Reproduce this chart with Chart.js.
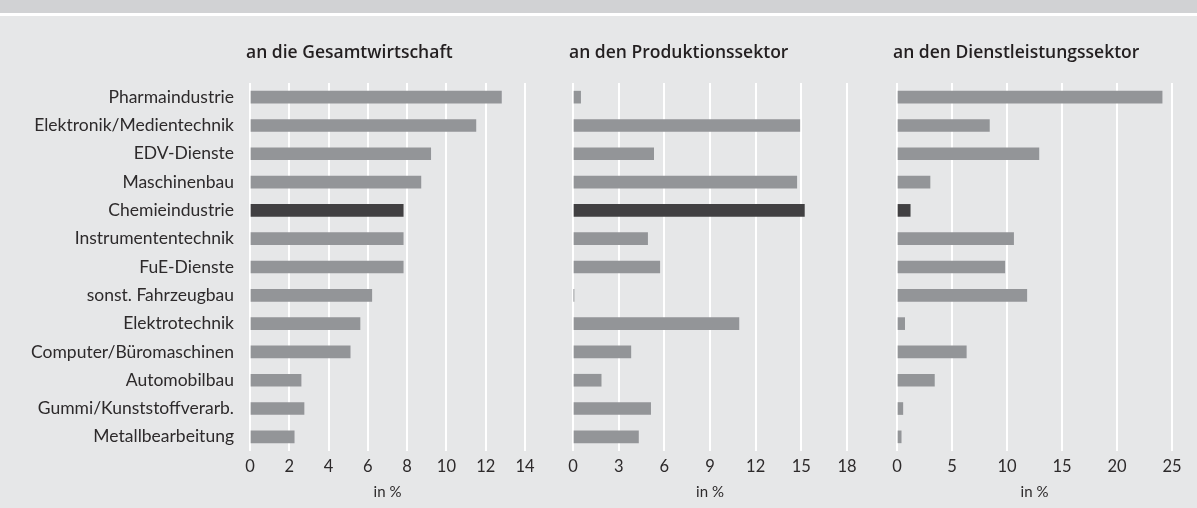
<!DOCTYPE html>
<html>
<head>
<meta charset="utf-8">
<script src="https://cdn.jsdelivr.net/npm/chart.js@4.4.0/dist/chart.umd.min.js"></script>
<style>
  body { margin: 0; background: #e6e7e8; }
  #band { position: absolute; left: 0; top: 0; width: 1197px; height: 13px; background: #d1d2d4; border-bottom: 3px solid #fff; }
  canvas { position: absolute; left: 0; top: 0; }
</style>
</head>
<body>
<div id="band"></div>
<canvas id="c1" width="1197" height="508"></canvas>
<canvas id="c2" width="1197" height="508"></canvas>
<canvas id="c3" width="1197" height="508"></canvas>
<script>
// Branchen (Kategorien)
var categories = ['Pharmaindustrie', 'Elektronik/Medientechnik', 'EDV-Dienste', 'Maschinenbau',
  'Chemieindustrie', 'Instrumententechnik', 'FuE-Dienste', 'sonst. Fahrzeugbau', 'Elektrotechnik',
  'Computer/Büromaschinen', 'Automobilbau', 'Gummi/Kunststoffverarb.', 'Metallbearbeitung'];

// Werte in %
var gesamt     = [12.8, 11.5, 9.2, 8.7, 7.8, 7.8, 7.8, 6.2, 5.6, 5.1, 2.6, 2.75, 2.25];
var produktion = [0.5, 14.9, 5.3, 14.7, 15.2, 4.9, 5.7, 0.05, 10.9, 3.8, 1.85, 5.1, 4.3];
var dienst     = [24.1, 8.4, 12.9, 3.0, 1.2, 10.6, 9.8, 11.8, 0.7, 6.3, 3.4, 0.53, 0.38];

// Achsenbeschriftungen
var ticksGesamt     = [0, 2, 4, 6, 8, 10, 12, 14];
var ticksProduktion = [0, 3, 6, 9, 12, 15, 18];
var ticksDienst     = [0, 5, 10, 15, 20, 25];

var titles = ['an die Gesamtwirtschaft', 'an den Produktionssektor', 'an den Dienstleistungssektor'];

var highlight = 'Chemieindustrie';
var barColors = categories.map(function(c) { return c === highlight ? '#414042' : '#939598'; });

// Überschrift über jedem Panel, links an der Zeichenfläche
var panelTitle = {
  id: 'panelTitle',
  afterDraw: function(chart, args, opts) {
    var ctx = chart.ctx;
    ctx.save();
    ctx.font = '600 17.5px "Open Sans"';
    ctx.fillStyle = '#231f20';
    ctx.textAlign = 'left';
    ctx.textBaseline = 'middle';
    ctx.fillText(opts.text, chart.chartArea.left - 4, 53);
    ctx.restore();
  }
};

function makePanel(id, values, tickValues, title, padLeft, padRight, showLabels) {
  var ctx = document.getElementById(id).getContext('2d');
  return new Chart(ctx, {
    type: 'bar',
    data: {
      labels: categories,
      datasets: [{
        data: values,
        backgroundColor: barColors,
        barThickness: 12
      }]
    },
    options: {
      indexAxis: 'y',
      responsive: false,
      animation: false,
      events: [],
      layout: { padding: { left: padLeft, right: padRight, top: 83, bottom: 0 } },
      plugins: {
        legend: { display: false },
        tooltip: { enabled: false },
        panelTitle: { text: title }
      },
      scales: {
        x: {
          min: tickValues[0],
          max: tickValues[tickValues.length - 1],
          afterBuildTicks: function(scale) {
            scale.ticks = tickValues.map(function(v) { return { value: v }; });
          },
          afterFit: function(scale) { scale.height = 57; },
          grid: { color: '#ffffff', lineWidth: 2, drawTicks: false },
          border: { display: false },
          ticks: { color: '#2d2a2b', font: { family: 'Lato', size: 16.5 }, padding: 6 },
          title: { display: true, text: 'in %', color: '#2d2a2b', font: { family: 'Lato', size: 15 }, padding: { top: 0, bottom: 7 } }
        },
        y: {
          display: showLabels,
          afterFit: function(scale) { if (showLabels) scale.width = 250; },
          grid: { display: false, drawTicks: false },
          border: { display: false },
          ticks: { color: '#2d2a2b', font: { family: 'Lato', size: 17.5 }, padding: 16 }
        }
      }
    },
    plugins: [panelTitle]
  });
}

makePanel('c1', gesamt, ticksGesamt, titles[0], 0, 1197 - 525, true);
makePanel('c2', produktion, ticksProduktion, titles[1], 573, 1197 - 847, false);
makePanel('c3', dienst, ticksDienst, titles[2], 897, 1197 - 1172, false);
</script>
</body>
</html>
